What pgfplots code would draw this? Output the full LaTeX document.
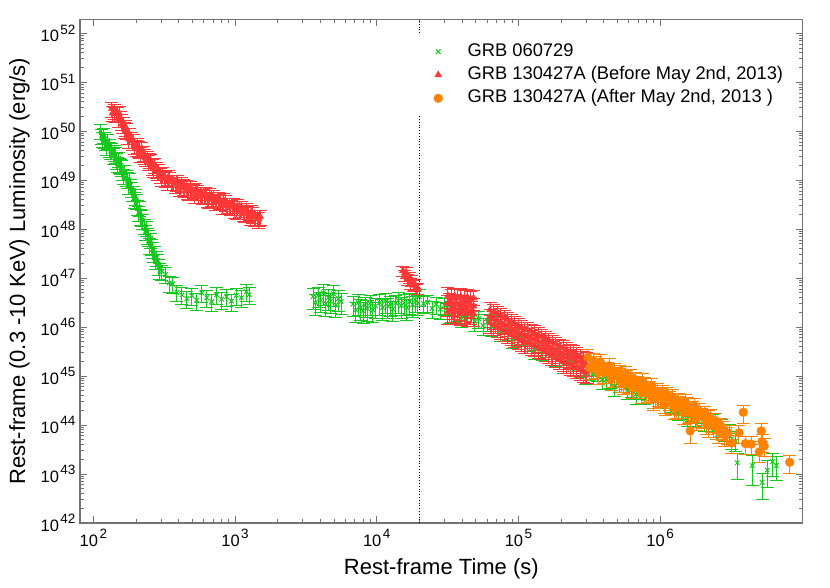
\documentclass[border=0pt]{standalone}
\usepackage{fontspec}
\setmainfont{Liberation Sans}
\usepackage{pgfplots}
\pgfplotsset{compat=1.18}
\definecolor{grbgreen}{RGB}{20,200,30}
\definecolor{grbred}{RGB}{255,55,55}
\definecolor{grborange}{RGB}{255,130,0}
\definecolor{axgray}{RGB}{115,115,115}
\newcommand{\tp}[1]{10\kern1.5pt\raisebox{7.5pt}{\fontsize{13.5}{13.5}\selectfont #1}}
\pgfplotsset{mylegimg/.style={legend image code/.code={\path[draw=none, fill=none, mark=none] (0pt,-4pt) rectangle (30pt,4pt); \draw[##1] plot coordinates {(20pt,0pt)};}}}
\begin{document}
\begin{tikzpicture}
\begin{axis}[
  at={(0,0)}, anchor=south west,
  scale only axis, width=722.7pt, height=503.7pt,
  xmode=log, ymode=log,
  xmin=80.5, xmax=1.014e7, ymin=1e42, ymax=1.93e52,
  xtick={1e2,1e3,1e4,1e5,1e6},
  xticklabels={\tp{2},\tp{3},\tp{4},\tp{5},\tp{6}},
  ytick={1e42,1e43,1e44,1e45,1e46,1e47,1e48,1e49,1e50,1e51,1e52},
  yticklabels={\tp{42},\tp{43},\tp{44},\tp{45},\tp{46},\tp{47},\tp{48},\tp{49},\tp{50},\tp{51},\tp{52}},
  tick label style={font=\fontsize{16.5}{18}\selectfont, black},
  xticklabel style={yshift=-3pt},
  yticklabel style={xshift=-1pt},
  axis line style={axgray, line width=1.3pt},
  every tick/.style={axgray, line width=0.9pt},
  major tick length=7pt, minor tick length=4pt,
  tick align=inside,
  xlabel={Rest-frame Time (s)},
  ylabel={Rest-frame (0.3 -10 KeV) Luminosity (erg/s)},
  xlabel style={font=\fontsize{22}{26}\selectfont, at={(axis description cs:0.5,0)}, anchor=base, yshift=-52pt},
  ylabel style={font=\fontsize{22}{26}\selectfont, at={(axis description cs:-0.0761,0.5)}, anchor=base},
  legend style={at={(axis description cs:0.4622,0.9688)}, anchor=north west, draw=none, fill=white,
    font=\fontsize{18.3}{21}\selectfont, row sep=4.3pt, inner xsep=4pt, inner ysep=7pt,
    nodes={inner sep=1.5pt, text height=12.5pt, text depth=3.5pt},
    /tikz/every odd column/.append style={column sep=18pt}},
  legend cell align=left,
  clip=true,
]
% ---------------- GRB 060729 ----------------
\addplot[only marks, grbgreen, mark=x, mark size=3.2pt, mark options={line width=1pt}, mylegimg,
  error bars/.cd, y dir=both, y explicit relative,
  error bar style={grbgreen, line width=1pt},
  error mark options={rotate=90, grbgreen, line width=1pt, mark size=6.5pt}]
  table[x index=0, y index=1, y error index=2] {
112 1.02e50 0.35
114 8.13e49 0.35
116 7.08e49 0.35
118 8.51e49 0.35
120 6.92e49 0.35
122 6.31e49 0.35
124 4.90e49 0.35
126 6.46e49 0.35
129 5.01e49 0.35
131 4.37e49 0.35
133 4.07e49 0.35
135 4.07e49 0.35
138 3.24e49 0.35
140 3.72e49 0.35
143 3.39e49 0.35
145 2.57e49 0.35
148 2.19e49 0.35
150 2.75e49 0.35
153 2.09e49 0.35
156 2.00e49 0.35
158 1.86e49 0.35
161 1.48e49 0.35
164 1.23e49 0.35
167 1.48e49 0.35
170 1.15e49 0.35
173 1.05e49 0.35
176 7.76e48 0.35
179 1.02e49 0.35
182 7.76e48 0.35
185 6.76e48 0.35
188 5.62e48 0.35
191 5.62e48 0.35
195 4.07e48 0.35
198 4.68e48 0.35
202 3.80e48 0.35
205 2.88e48 0.35
209 2.19e48 0.35
212 2.75e48 0.35
216 1.86e48 0.35
220 1.78e48 0.35
224 1.48e48 0.35
228 1.17e48 0.35
232 8.91e47 0.35
236 1.07e48 0.35
240 7.59e47 0.35
244 6.92e47 0.35
248 4.68e47 0.35
252 6.17e47 0.35
257 4.47e47 0.35
261 3.89e47 0.35
266 3.24e47 0.35
270 3.24e47 0.35
275 2.29e47 0.35
280 2.63e47 0.35
285 2.29e47 0.35
290 1.74e47 0.35
295 1.45e47 0.35
305 1.35e47 0.35
324 1.20e47 0.35
343 7.94e46 0.35
363 7.59e46 0.35
389 5.13e46 0.35
422 4.57e46 0.38
457 3.80e46 0.38
495 4.37e46 0.38
537 3.55e46 0.38
582 5.01e46 0.38
631 3.98e46 0.38
684 3.31e46 0.38
741 4.57e46 0.38
804 3.72e46 0.38
871 4.17e46 0.38
944 3.39e46 0.38
1023 4.47e46 0.38
1109 3.98e46 0.38
1202 5.25e46 0.38
1259 4.57e46 0.38
3550 4.17e46 0.45
3700 3.16e46 0.45
3860 4.47e46 0.45
4020 3.55e46 0.45
4190 5.01e46 0.45
4370 3.02e46 0.45
4550 3.98e46 0.45
4740 3.39e46 0.45
4940 4.79e46 0.45
5150 2.82e46 0.45
5370 3.80e46 0.45
5600 3.31e46 0.45
6800 2.95e46 0.45
7100 2.24e46 0.45
7400 3.16e46 0.45
7700 2.51e46 0.45
8000 2.14e46 0.45
8300 2.82e46 0.45
8600 2.40e46 0.45
9000 3.09e46 0.45
9400 2.24e46 0.45
9800 2.69e46 0.45
10500 3.16e46 0.45
11000 2.51e46 0.45
11500 3.39e46 0.45
12000 2.69e46 0.45
12500 2.95e46 0.45
13000 2.34e46 0.45
13600 3.09e46 0.45
14200 3.47e46 0.45
14900 2.75e46 0.45
15600 3.16e46 0.45
16300 2.51e46 0.45
17100 3.31e46 0.45
17900 2.88e46 0.45
18700 3.63e46 0.45
19500 3.09e46 0.45
19950 4.16e46 0.38
21380 3.01e46 0.38
22910 3.23e46 0.38
24550 2.40e46 0.38
26300 2.94e46 0.38
28180 2.34e46 0.38
30200 2.75e46 0.38
32360 1.94e46 0.38
34670 2.04e46 0.38
37150 2.14e46 0.38
39810 1.55e46 0.38
42660 1.81e46 0.38
45710 1.81e46 0.38
48980 1.34e46 0.38
52480 1.48e46 0.38
56230 1.07e46 0.38
60260 1.28e46 0.38
64570 1.02e46 0.38
69180 1.17e46 0.38
74130 8.30e45 0.38
79430 8.30e45 0.38
85110 8.50e45 0.38
91200 5.88e45 0.38
97720 6.60e45 0.38
104700 6.77e45 0.38
112200 4.69e45 0.38
120200 5.01e45 0.38
128800 3.55e45 0.38
138000 4.27e45 0.38
147900 3.31e45 0.38
158500 3.81e45 0.38
169800 2.63e45 0.38
182000 2.57e45 0.38
195000 2.63e45 0.38
208900 1.83e45 0.38
223900 2.04e45 0.38
239900 1.99e45 0.38
257000 1.41e45 0.38
275400 1.51e45 0.38
295100 1.10e45 0.38
316200 1.32e45 0.38
338800 1.07e45 0.38
363100 1.23e45 0.38
389000 8.52e44 0.38
416900 8.52e44 0.38
446700 8.92e44 0.38
478600 6.17e44 0.38
512900 7.42e44 0.38
549500 7.42e44 0.38
588800 5.37e44 0.38
631000 5.77e44 0.38
676100 4.28e44 0.38
724400 5.25e44 0.38
776200 4.28e44 0.38
831800 5.02e44 0.38
891300 3.47e44 0.38
955000 3.55e44 0.38
1023000 3.72e44 0.38
1096000 2.57e44 0.38
1175000 2.89e44 0.38
1259000 2.82e44 0.38
1349000 1.99e44 0.38
1445000 2.14e44 0.38
1549000 1.54e44 0.38
1660000 1.86e44 0.38
1778000 1.48e44 0.38
1905000 1.70e44 0.38
2042000 1.18e44 0.38
2188000 1.18e44 0.38
2344000 1.20e44 0.38
2512000 8.14e43 0.38
2692000 9.35e43 0.38
2884000 7.42e43 0.38
3090000 7.59e43 0.38
3200000 5.25e43 0.4
3400000 4.69e43 0.4
3500000 1.70e43 0.55
4470000 1.49e43 0.6
5250000 6.76e42 0.55
5700000 1.20e43 0.55
6200000 1.78e43 0.5
6600000 1.49e43 0.5
};
\addlegendentry{GRB 060729}
% ---------------- GRB 130427A before ----------------
\addplot[only marks, grbred, mark=triangle*, mark size=4pt, mylegimg,
  error bars/.cd, y dir=both, y explicit relative,
  error bar style={grbred, line width=1pt},
  error mark options={rotate=90, grbred, line width=1pt, mark size=6.5pt}]
  table[x index=0, y index=1, y error index=2] {
135 2.88e50 0.35
137 2.40e50 0.35
140 2.29e50 0.35
142 2.63e50 0.35
145 2.40e50 0.35
147 2.29e50 0.35
150 1.86e50 0.35
152 2.34e50 0.35
155 1.86e50 0.35
157 1.62e50 0.35
160 1.41e50 0.35
163 1.41e50 0.35
166 1.10e50 0.35
169 1.20e50 0.35
172 1.05e50 0.35
175 8.32e49 0.35
178 6.92e49 0.35
181 8.32e49 0.35
185 6.92e49 0.35
188 6.31e49 0.35
192 6.31e49 0.35
196 5.25e49 0.35
200 4.68e49 0.35
204 5.37e49 0.35
208 4.47e49 0.35
212 4.27e49 0.35
216 3.47e49 0.35
220 4.37e49 0.35
225 3.63e49 0.35
230 3.16e49 0.35
235 2.88e49 0.35
240 2.88e49 0.35
245 2.40e49 0.35
250 2.63e49 0.35
255 2.45e49 0.35
260 1.95e49 0.35
266 1.74e49 0.35
272 2.09e49 0.35
278 1.70e49 0.35
284 1.55e49 0.35
290 1.55e49 0.35
296 1.29e49 0.35
303 1.15e49 0.35
310 1.32e49 0.35
317 1.15e49 0.35
324 1.10e49 0.35
331 9.33e48 0.35
338 1.17e49 0.35
346 1.07e49 0.35
354 9.33e48 0.35
362 9.33e48 0.35
370 9.33e48 0.35
378 8.32e48 0.35
386 9.12e48 0.35
395 9.12e48 0.35
404 7.24e48 0.35
413 7.08e48 0.35
422 8.51e48 0.35
432 7.59e48 0.35
442 6.92e48 0.35
452 7.41e48 0.35
462 6.17e48 0.35
473 6.03e48 0.35
484 6.92e48 0.35
495 6.31e48 0.35
506 6.03e48 0.35
518 5.13e48 0.35
530 6.46e48 0.35
542 5.89e48 0.35
554 5.13e48 0.35
567 5.25e48 0.35
580 5.25e48 0.35
593 4.79e48 0.35
606 5.25e48 0.35
620 5.25e48 0.35
634 4.17e48 0.35
649 4.07e48 0.35
664 4.90e48 0.35
679 4.47e48 0.35
694 4.07e48 0.35
710 4.47e48 0.35
726 3.72e48 0.35
743 3.63e48 0.35
760 4.17e48 0.35
777 3.80e48 0.35
795 3.63e48 0.35
813 3.09e48 0.35
831 3.89e48 0.35
850 3.55e48 0.35
870 3.09e48 0.35
890 3.16e48 0.35
910 3.16e48 0.35
931 2.88e48 0.35
952 3.16e48 0.35
974 3.16e48 0.35
997 2.51e48 0.35
1020 2.45e48 0.35
1043 2.95e48 0.35
1067 2.69e48 0.35
1091 2.45e48 0.35
1116 2.69e48 0.35
1142 2.24e48 0.35
1168 2.14e48 0.35
1195 2.45e48 0.35
1222 2.19e48 0.35
1250 2.09e48 0.35
1278 1.82e48 0.35
1307 2.29e48 0.35
1337 2.04e48 0.35
1368 1.78e48 0.35
1399 1.78e48 0.35
1431 1.78e48 0.35
1464 1.62e48 0.35
1482 1.78e48 0.35
1500 1.82e48 0.35
15300 1.41e47 0.25
15700 1.12e47 0.25
16100 1.32e47 0.25
16500 9.55e46 0.25
16900 1.05e47 0.25
17300 7.94e46 0.25
17700 8.91e46 0.25
18100 7.08e46 0.25
18600 7.59e46 0.25
19100 6.03e46 0.25
19500 6.31e46 0.25
31800 4.37e46 0.45
31800 3.02e46 0.45
31800 2.09e46 0.45
32600 3.30e46 0.45
33500 4.07e46 0.45
33500 3.05e46 0.45
33500 2.29e46 0.45
34400 2.60e46 0.45
35300 4.27e46 0.45
35300 2.95e46 0.45
35300 2.04e46 0.45
36200 3.20e46 0.45
37200 3.98e46 0.45
37200 2.95e46 0.45
37200 2.19e46 0.45
38200 2.50e46 0.45
39200 4.17e46 0.45
39200 2.85e46 0.45
39200 1.95e46 0.45
40200 3.10e46 0.45
41300 3.89e46 0.45
41300 2.88e46 0.45
41300 2.14e46 0.45
42400 2.40e46 0.45
43500 4.07e46 0.45
43500 2.79e46 0.45
43500 1.91e46 0.45
44600 2.90e46 0.45
45800 3.72e46 0.45
45800 2.76e46 0.45
45800 2.04e46 0.45
47000 2.30e46 0.45
48200 3.89e46 0.45
48200 2.69e46 0.45
48200 1.86e46 0.45
63000 2.24e46 0.4
63000 1.66e46 0.4
63000 1.23e46 0.4
67000 2.04e46 0.4
67000 1.51e46 0.4
67000 1.12e46 0.4
71000 1.86e46 0.4
71000 1.38e46 0.4
71000 1.02e46 0.4
75000 1.70e46 0.4
75000 1.26e46 0.4
75000 9.33e45 0.4
79500 1.55e46 0.4
79500 1.15e46 0.4
79500 8.51e45 0.4
84000 1.41e46 0.4
84000 1.05e46 0.4
84000 7.76e45 0.4
89000 1.29e46 0.4
89000 9.55e45 0.4
89000 7.08e45 0.4
94000 1.17e46 0.4
94000 8.71e45 0.4
94000 6.46e45 0.4
99500 1.07e46 0.4
99500 7.94e45 0.4
99500 5.89e45 0.4
105000 9.77e45 0.4
105000 7.24e45 0.4
105000 5.37e45 0.4
111000 8.91e45 0.4
111000 6.61e45 0.4
111000 4.90e45 0.4
116000 8.91e45 0.4
116000 6.61e45 0.4
116000 4.90e45 0.4
123000 8.13e45 0.4
123000 6.03e45 0.4
123000 4.47e45 0.4
130000 7.59e45 0.4
130000 5.62e45 0.4
130000 4.17e45 0.4
138000 6.92e45 0.4
138000 5.13e45 0.4
138000 3.80e45 0.4
146000 6.46e45 0.4
146000 4.79e45 0.4
146000 3.55e45 0.4
155000 5.89e45 0.4
155000 4.37e45 0.4
155000 3.24e45 0.4
164000 5.37e45 0.4
164000 3.98e45 0.4
164000 2.95e45 0.4
174000 4.90e45 0.4
174000 3.63e45 0.4
174000 2.69e45 0.4
184000 4.47e45 0.4
184000 3.31e45 0.4
184000 2.45e45 0.4
195000 4.07e45 0.4
195000 3.02e45 0.4
195000 2.24e45 0.4
207000 3.72e45 0.4
207000 2.75e45 0.4
207000 2.04e45 0.4
219000 3.39e45 0.4
219000 2.51e45 0.4
219000 1.86e45 0.4
232000 3.16e45 0.4
232000 2.40e45 0.4
232000 1.74e45 0.4
245000 2.95e45 0.4
245000 2.24e45 0.4
245000 1.62e45 0.4
258000 2.69e45 0.4
258000 2.04e45 0.4
258000 1.48e45 0.4
272000 2.51e45 0.4
272000 1.91e45 0.4
272000 1.38e45 0.4
287000 2.29e45 0.4
287000 1.74e45 0.4
287000 1.26e45 0.4
302000 2.14e45 0.4
302000 1.62e45 0.4
302000 1.17e45 0.4
};
\addlegendentry{GRB 130427A (Before May 2nd, 2013)}
% ---------------- GRB 130427A after ----------------
\addplot[only marks, grborange, mark=*, mark size=4.4pt, mylegimg,
  error bars/.cd, y dir=both, y explicit relative,
  error bar style={grborange, line width=1pt},
  error mark options={rotate=90, grborange, line width=1pt, mark size=6.5pt}]
  table[x index=0, y index=1, y error index=2] {
309000 2.40e45 0.42
318000 1.48e45 0.42
327000 1.48e45 0.42
337000 2.05e45 0.42
347000 1.74e45 0.42
357000 1.52e45 0.42
367000 1.18e45 0.42
378000 1.95e45 0.42
389000 1.62e45 0.42
401000 1.20e45 0.42
412000 1.23e45 0.42
425000 1.35e45 0.42
437000 1.62e45 0.42
450000 8.92e44 0.42
462000 1.00e45 0.42
476000 1.26e45 0.42
490000 1.05e45 0.42
505000 1.02e45 0.42
519000 1.18e45 0.42
535000 7.96e44 0.42
550000 7.26e44 0.42
566000 1.10e45 0.42
582000 9.35e44 0.42
600000 7.42e44 0.42
617000 9.78e44 0.42
635000 6.03e44 0.42
653000 6.03e44 0.42
673000 8.33e44 0.42
692000 6.93e44 0.42
713000 6.03e44 0.42
733000 4.69e44 0.42
755000 7.77e44 0.42
776000 6.47e44 0.42
800000 4.69e44 0.42
822000 4.91e44 0.42
847000 5.37e44 0.42
871000 6.32e44 0.42
897000 3.47e44 0.42
923000 3.80e44 0.42
951000 4.91e44 0.42
977000 4.08e44 0.42
1007000 3.89e44 0.42
1035000 4.47e44 0.42
1067000 2.96e44 0.42
1096000 2.76e44 0.42
1130000 4.17e44 0.42
1161000 3.47e44 0.42
1197000 2.82e44 0.42
1230000 3.72e44 0.42
1268000 2.24e44 0.42
1303000 2.30e44 0.42
1343000 3.17e44 0.42
1380000 2.64e44 0.42
1422000 2.30e44 0.42
1462000 1.78e44 0.42
1507000 2.96e44 0.42
1549000 2.52e44 0.42
1596000 1.82e44 0.42
1641000 1.86e44 0.42
1690000 2.09e44 0.42
1738000 2.46e44 0.42
1791000 1.35e44 0.42
1841000 1.52e44 0.42
1897000 1.91e44 0.42
1950000 1.54e44 0.42
2009000 1.48e44 0.42
2065000 1.66e44 0.42
2128000 1.10e44 0.42
2188000 9.78e43 0.42
2254000 1.48e44 0.42
2317000 1.20e44 0.42
2388000 9.56e43 0.42
2455000 1.23e44 0.42
2529000 8.92e43 0.42
2600000 7.26e43 0.42
2679000 9.56e43 0.42
2754000 8.14e43 0.42
2838000 6.32e43 0.42
2917000 6.32e43 0.42
3006000 6.77e43 0.42
1630000 7.59e43 0.45
2200000 1.48e44 0.35
2600000 1.02e44 0.35
3200000 4.28e43 0.4
3600000 6.93e43 0.4
3860000 1.82e44 0.4
4000000 4.17e43 0.4
4400000 4.08e43 0.4
5000000 2.82e43 0.4
5170000 7.59e43 0.4
5250000 4.58e43 0.4
5430000 3.72e43 0.4
8200000 1.74e43 0.4
};
\addlegendentry{GRB 130427A (After May 2nd, 2013 )}
\addplot[black, dotted, line width=0.8pt, forget plot] coordinates {(2e4,1e42) (2e4,1.93e52)};
\end{axis}
\pgfresetboundingbox
\useasboundingbox (-80pt,-65pt) rectangle (750pt,523pt);
\end{tikzpicture}
\end{document}
